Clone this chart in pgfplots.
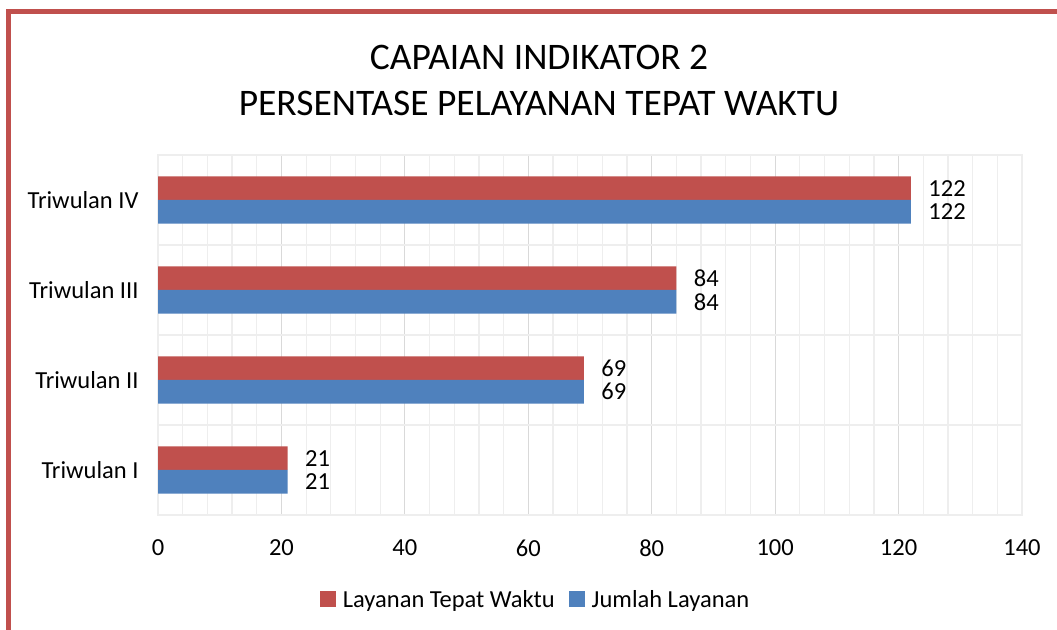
\documentclass[border=0pt]{standalone}
\usepackage{fontspec}
\setmainfont{Carlito}
\usepackage{pgfplots}
\pgfplotsset{compat=1.18}
\definecolor{cred}{HTML}{C0504D}
\definecolor{cblue}{HTML}{4F81BD}
\definecolor{gmaj}{HTML}{D9D9D9}
\definecolor{gmin}{HTML}{EEEEEE}
\begin{document}
\begin{tikzpicture}[x=1bp,y=1bp]
\useasboundingbox (0,0) rectangle (1057,630);
\fill[white] (0,0) rectangle (1057,630);
\draw[cred, line width=5bp] (8,-10) -- (8,618.5) -- (1070,618.5);
\node[font=\fontsize{37.5bp}{44bp}\selectfont] at (539,573) {CAPAIAN INDIKATOR 2};
\node[font=\fontsize{37.5bp}{44bp}\selectfont] at (539,527) {PERSENTASE PELAYANAN TEPAT WAKTU};
\begin{axis}[
  at={(158bp,115bp)}, anchor=south west,
  scale only axis, width=864bp, height=360bp,
  xbar, bar width=0.262,
  xmin=0, xmax=140, ymin=0.5, ymax=4.5,
  xtick={0,20,...,140}, minor x tick num=4,
  ytick={1,2,3,4},
  yticklabels={Triwulan I,Triwulan II,Triwulan III,Triwulan IV},
  minor ytick={0.5,1.5,2.5,3.5,4.5},
  xmajorgrids, xminorgrids, yminorgrids, ymajorgrids=false,
  major x grid style={draw=gmaj, line width=1.2bp},
  minor x grid style={draw=gmin, line width=1.2bp},
  minor y grid style={draw=gmin, line width=1.2bp},
  major tick length=0, minor tick length=0,
  axis line style={draw=gmin, line width=1.2bp},
  /pgf/number format/assume math mode=true,
  ticklabel style={font=\fontsize{24.5bp}{29bp}\selectfont},
  xticklabel style={yshift=-21bp},
  yticklabel style={xshift=-16bp},
  clip=false,
  legend style={at={(0.437,-0.236)}, anchor=center, draw=none, fill=none,
    font=\fontsize{24.5bp}{29bp}\selectfont,
    /tikz/every odd column/.append style={column sep=5bp},
    /tikz/every even column/.append style={column sep=12bp}},
  legend columns=2,
  legend image code/.code={\fill[#1] (0bp,-7bp) rectangle (16bp,9bp);},
  point meta=x,
  nodes near coords,
  every node near coord/.append style={font=\fontsize{24.5bp}{29bp}\selectfont, anchor=west, xshift=14bp},
]
\addplot[bar shift=0.131, fill=cred, draw=none] coordinates {(21,1) (69,2) (84,3) (122,4)};
\addlegendentry{Layanan Tepat Waktu}
\addplot[bar shift=-0.131, fill=cblue, draw=none] coordinates {(21,1) (69,2) (84,3) (122,4)};
\addlegendentry{Jumlah Layanan}
\end{axis}
\end{tikzpicture}
\end{document}
